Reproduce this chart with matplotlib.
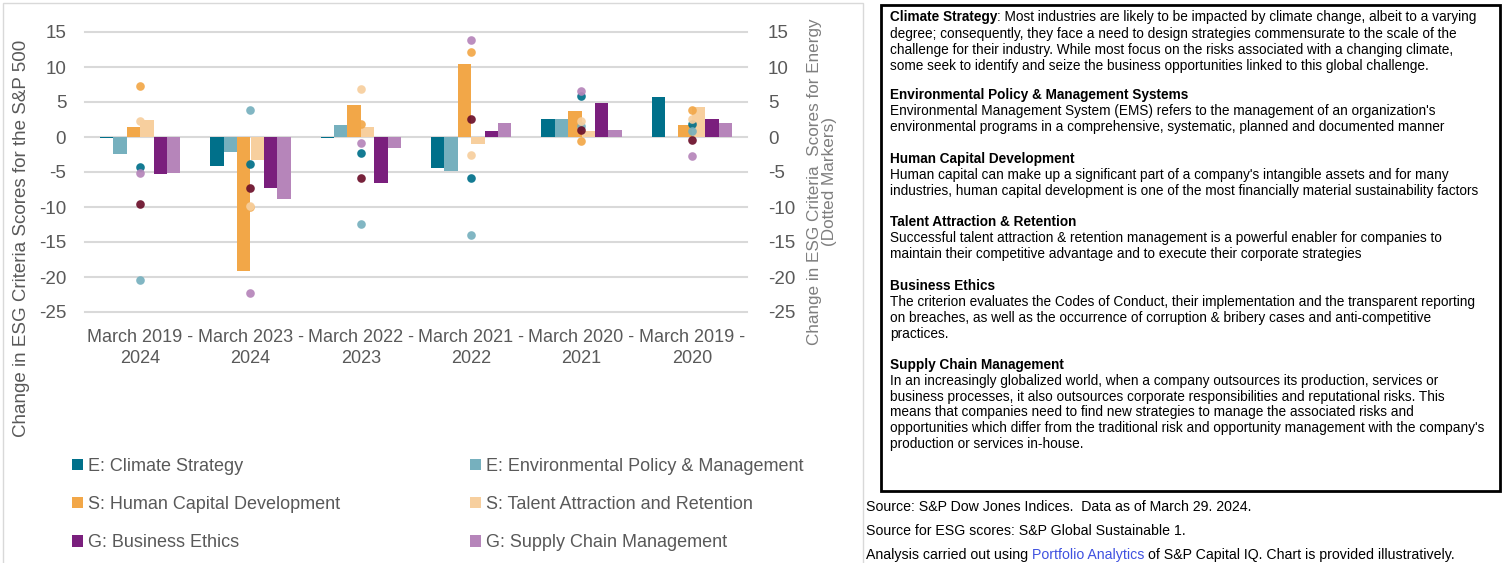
import matplotlib
matplotlib.use('Agg')
import matplotlib.pyplot as plt
from matplotlib.patches import Patch, Rectangle
import numpy as np

plt.rcParams['font.family'] = ['Liberation Sans', 'DejaVu Sans']

# ---------------- data ----------------
periods = ["March 2019 -\n2024", "March 2023 -\n2024", "March 2022 -\n2023",
           "March 2021 -\n2022", "March 2020 -\n2021", "March 2019 -\n2020"]
series_names = ["E: Climate Strategy", "E: Environmental Policy & Management",
                "S: Human Capital Development", "S: Talent Attraction and Retention",
                "G: Business Ethics", "G: Supply Chain Management"]

# S&P 500 (bars)
sp500_climate = [-0.2, -4.1, -0.2, -4.4, 2.6, 5.7]
sp500_env = [-2.4, -2.2, 1.7, -4.9, 2.6, 0.0]
sp500_human = [1.5, -19.2, 4.6, 10.5, 3.7, 1.7]
sp500_talent = [2.5, -3.3, 1.4, -1.0, 0.8, 4.3]
sp500_ethics = [-5.3, -7.3, -6.6, 0.8, 4.8, 2.6]
sp500_supply = [-5.1, -8.9, -1.6, 2.0, 1.0, 2.0]

# Energy (dotted markers)
energy_climate = [-4.3, -3.9, -2.3, -5.9, 5.8, 1.8]
energy_env = [-20.4, 3.8, -12.4, -14.0, 1.6, 0.8]
energy_human = [7.3, -10.0, 1.9, 12.2, -0.6, 3.8]
energy_talent = [2.3, -9.9, 6.9, -2.6, 2.3, 2.6]
energy_ethics = [-9.6, -7.3, -5.8, 2.6, 1.0, -0.4]
energy_supply = [-5.1, -22.3, -0.8, 13.8, 6.6, -2.7]

y_ticks = [15, 10, 5, 0, -5, -10, -15, -20, -25]

bar_colors = ['#00708A', '#76B0BE', '#F2A748', '#F7CF9E', '#7A1F7D', '#B685BA']
dot_colors = ['#00708A', '#76B0BE', '#F2A748', '#F7CF9E', '#6B0F2A', '#B685BA']

bars = [sp500_climate, sp500_env, sp500_human, sp500_talent, sp500_ethics, sp500_supply]
dots = [energy_climate, energy_env, energy_human, energy_talent, energy_ethics, energy_supply]

# ---------------- figure ----------------
W, H = 1506, 563
fig = plt.figure(figsize=(W / 100, H / 100), dpi=100)


def fx(px):
    return px / W


def fy(py):
    return 1 - py / H


TXT = '#595959'

ax = fig.add_axes([fx(85), fy(312), fx(747) - fx(85), fy(32) - fy(312)])
x = np.arange(len(periods))
bw = 0.1212
for i, (vals, col) in enumerate(zip(bars, bar_colors)):
    ax.bar(x - 3 * bw + (i + 0.5) * bw, vals, width=bw, color=col, zorder=2)

ax.set_xlim(-0.5, len(periods) - 0.5)
ax.set_ylim(-25, 15)
ax.set_yticks(y_ticks)
ax.set_yticklabels([str(v) for v in y_ticks])
ax.set_xticks(x)
ax.set_xticklabels(periods, linespacing=1.3)
ax.grid(axis='y', color='#D9D9D9', lw=1.5, zorder=0)
ax.set_axisbelow(True)
for gl in ax.get_ygridlines():
    gl.set_clip_on(False)
for s in ax.spines.values():
    s.set_visible(False)
ax.tick_params(axis='y', length=0, pad=13.5, labelsize=13.5, labelcolor=TXT)
ax.tick_params(axis='x', length=0, pad=12.5, labelsize=13, labelcolor=TXT)

ax2 = ax.twinx()
ax2.set_ylim(-25, 15)
ax2.set_yticks(y_ticks)
ax2.set_yticklabels([str(v) for v in y_ticks])
for s in ax2.spines.values():
    s.set_visible(False)
ax2.tick_params(axis='y', length=0, pad=15, labelsize=13.5, labelcolor=TXT)
for vals, col in zip(dots, dot_colors):
    ax2.plot(x, vals, linestyle='none', marker='o', markersize=6.2,
             markerfacecolor=col, markeredgecolor='none', alpha=0.92, zorder=3)

# axis titles
fig.text(fx(22), fy(238), "Change in ESG Criteria Scores for the S&P 500",
         rotation=90, ha='center', va='center', fontsize=13.5, color=TXT)
fig.text(fx(822), fy(182), "Change in ESG Criteria  Scores for Energy\n(Dotted Markers)",
         rotation=90, ha='center', va='center', multialignment='center',
         fontsize=12.3, color='#7F7F7F', linespacing=1.05)

# legend (two columns)
handles = [Patch(facecolor=c, edgecolor='none') for c in bar_colors]
leg_kw = dict(frameon=False, fontsize=13, handlelength=0.6, handleheight=0.6,
              handletextpad=0.3, labelspacing=1.17, borderpad=0, borderaxespad=0,
              loc='upper left', labelcolor=TXT)
fig.legend([handles[0], handles[2], handles[4]],
           [series_names[0], series_names[2], series_names[4]],
           bbox_to_anchor=(fx(72), fy(458)), **leg_kw)
fig.legend([handles[1], handles[3], handles[5]],
           [series_names[1], series_names[3], series_names[5]],
           bbox_to_anchor=(fx(470), fy(458)), **leg_kw)

# chart frame
fig.add_artist(Rectangle((fx(3), fy(H + 2)), fx(863) - fx(3), fy(3) - fy(H + 2),
                         transform=fig.transFigure, fill=False, edgecolor='#D9D9D9', lw=1))

# ---------------- text box ----------------
fig.add_artist(Rectangle((fx(881), fy(491)), fx(1500) - fx(881), fy(5) - fy(491),
                         transform=fig.transFigure, fill=False, edgecolor='black', lw=2))

renderer = fig.canvas.get_renderer()


def space_width(size):
    a = fig.text(0, 0, "a a", fontsize=size)
    b = fig.text(0, 0, "aa", fontsize=size)
    w = a.get_window_extent(renderer).width - b.get_window_extent(renderer).width
    a.remove()
    b.remove()
    return w


def seg_line(x0, y0, segs, size):
    xx = x0
    sw = space_width(size)
    for text, bold, color in segs:
        lead = len(text) - len(text.lstrip(' '))
        xx += lead * sw
        t = fig.text(fx(xx), fy(y0), text.strip(' '), fontsize=size,
                     fontweight='bold' if bold else 'normal', color=color,
                     ha='left', va='center')
        xx += t.get_window_extent(renderer).width
        trail = len(text) - len(text.rstrip(' '))
        xx += trail * sw


K = 'black'
BS = 9.85
box_lines = [
    (17, [("Climate Strategy", True, K), (": Most industries are likely to be impacted by climate change, albeit to a varying", False, K)]),
    (34, [("degree; consequently, they face a need to design strategies commensurate to the scale of the", False, K)]),
    (50, [("challenge for their industry. While most focus on the risks associated with a changing climate,", False, K)]),
    (66, [("some seek to identify and seize the business opportunities linked to this global challenge.", False, K)]),
    (95, [("Environmental Policy & Management Systems", True, K)]),
    (111, [("Environmental Management System (EMS) refers to the management of an organization's", False, K)]),
    (127, [("environmental programs in a comprehensive, systematic, planned and documented manner", False, K)]),
    (159, [("Human Capital Development", True, K)]),
    (175, [("Human capital can make up a significant part of a company's intangible assets and for many", False, K)]),
    (191, [("industries, human capital development is one of the most financially material sustainability factors", False, K)]),
    (222, [("Talent Attraction & Retention", True, K)]),
    (238, [("Successful talent attraction & retention management is a powerful enabler for companies to", False, K)]),
    (254, [("maintain their competitive advantage and to execute their corporate strategies", False, K)]),
    (286, [("Business Ethics", True, K)]),
    (302, [("The criterion evaluates the Codes of Conduct, their implementation and the transparent reporting", False, K)]),
    (318, [("on breaches, as well as the occurrence of corruption & bribery cases and anti-competitive", False, K)]),
    (334, [("practices.", False, K)]),
    (365, [("Supply Chain Management", True, K)]),
    (381, [("In an increasingly globalized world, when a company outsources its production, services or", False, K)]),
    (397, [("business processes, it also outsources corporate responsibilities and reputational risks. This", False, K)]),
    (412, [("means that companies need to find new strategies to manage the associated risks and", False, K)]),
    (428, [("opportunities which differ from the traditional risk and opportunity management with the company's", False, K)]),
    (444, [("production or services in-house.", False, K)]),
]
for yy, segs in box_lines:
    seg_line(890, yy, segs, BS)

SS = 10.15
seg_line(866, 507, [("Source: S&P Dow Jones Indices.  Data as of March 29. 2024.", False, K)], SS)
seg_line(866, 531, [("Source for ESG scores: S&P Global Sustainable 1.", False, K)], SS)
seg_line(866, 555, [("Analysis carried out using ", False, K), ("Portfolio Analytics", False, '#3F51E0'),
                    (" of S&P Capital IQ. Chart is provided illustratively.", False, K)], SS)

fig.savefig('out.png', dpi=100)
